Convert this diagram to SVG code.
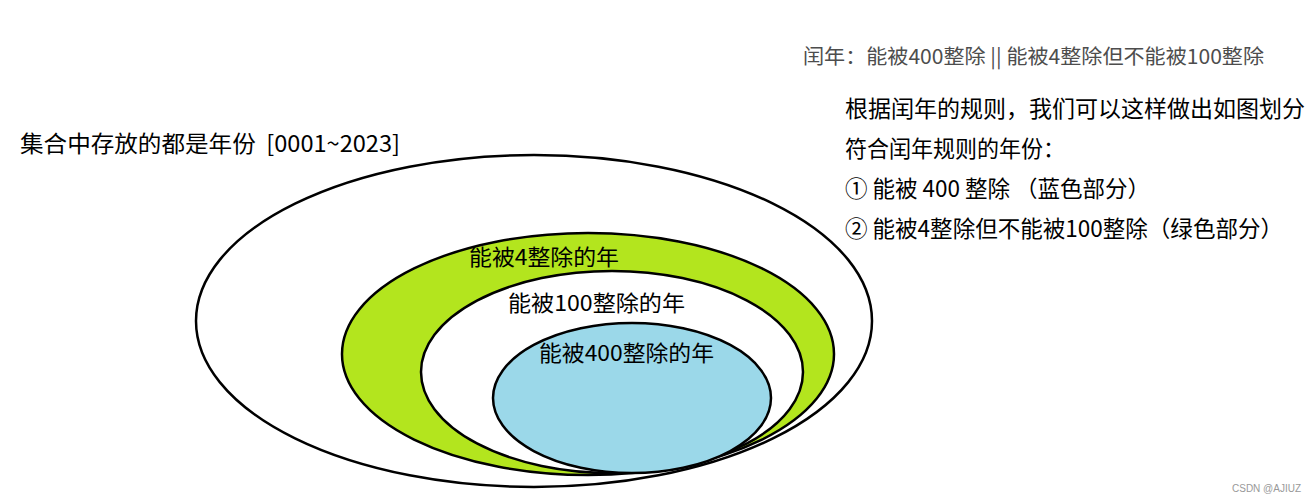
<svg xmlns="http://www.w3.org/2000/svg" width="1313" height="502" viewBox="0 0 1313 502">
<style>
text{font-family:"Microsoft YaHei","Noto Sans CJK SC","Noto Sans",sans-serif;}
.t{font-size:22.5px;fill:#000;}
.g{font-size:20px;fill:#4d4d4d;}
.l{font-size:22px;fill:#000;}
.e{stroke:#000;stroke-width:2.5;}
</style>
<rect width="1313" height="502" fill="#fff"/>
<g id="outer"><ellipse class="e" cx="534" cy="321" rx="338" ry="166" fill="#fff"/></g>
<g id="div4"><ellipse class="e" cx="588" cy="354" rx="246" ry="121" fill="#b3e51e"/><text class="l" x="469" y="265" textLength="150" lengthAdjust="spacingAndGlyphs">能被4整除的年</text></g>
<g id="div100"><ellipse class="e" cx="612" cy="372" rx="191" ry="101" fill="#fff"/><text class="l" x="508" y="311" textLength="177" lengthAdjust="spacingAndGlyphs">能被100整除的年</text></g>
<g id="div400"><ellipse class="e" cx="632" cy="398" rx="139" ry="75" fill="#9bd8e9"/><text class="l" x="539" y="361" textLength="175" lengthAdjust="spacingAndGlyphs">能被400整除的年</text></g>
<g id="texts">
<text class="g" x="803" y="64" textLength="461" lengthAdjust="spacingAndGlyphs">闰年：能被400整除 || 能被4整除但不能被100整除</text>
<text class="t" x="20" y="152" textLength="380" lengthAdjust="spacingAndGlyphs" xml:space="preserve">集合中存放的都是年份  [0001~2023]</text>
<text class="t" x="845" y="117" textLength="460" lengthAdjust="spacingAndGlyphs">根据闰年的规则，我们可以这样做出如图划分</text>
<text class="t" x="845" y="157" textLength="220" lengthAdjust="spacingAndGlyphs">符合闰年规则的年份：</text>
<text class="t" x="845" y="197" textLength="305" lengthAdjust="spacingAndGlyphs" xml:space="preserve">① 能被 400 整除 （蓝色部分）</text>
<text class="t" x="845" y="237" textLength="438" lengthAdjust="spacingAndGlyphs">② 能被4整除但不能被100整除（绿色部分）</text>
<text x="1232" y="492" style="font-size:10px;fill:#999;font-family:'Liberation Sans',sans-serif">CSDN @AJIUZ</text>
</g>
<g id="connectors"></g>
</svg>
